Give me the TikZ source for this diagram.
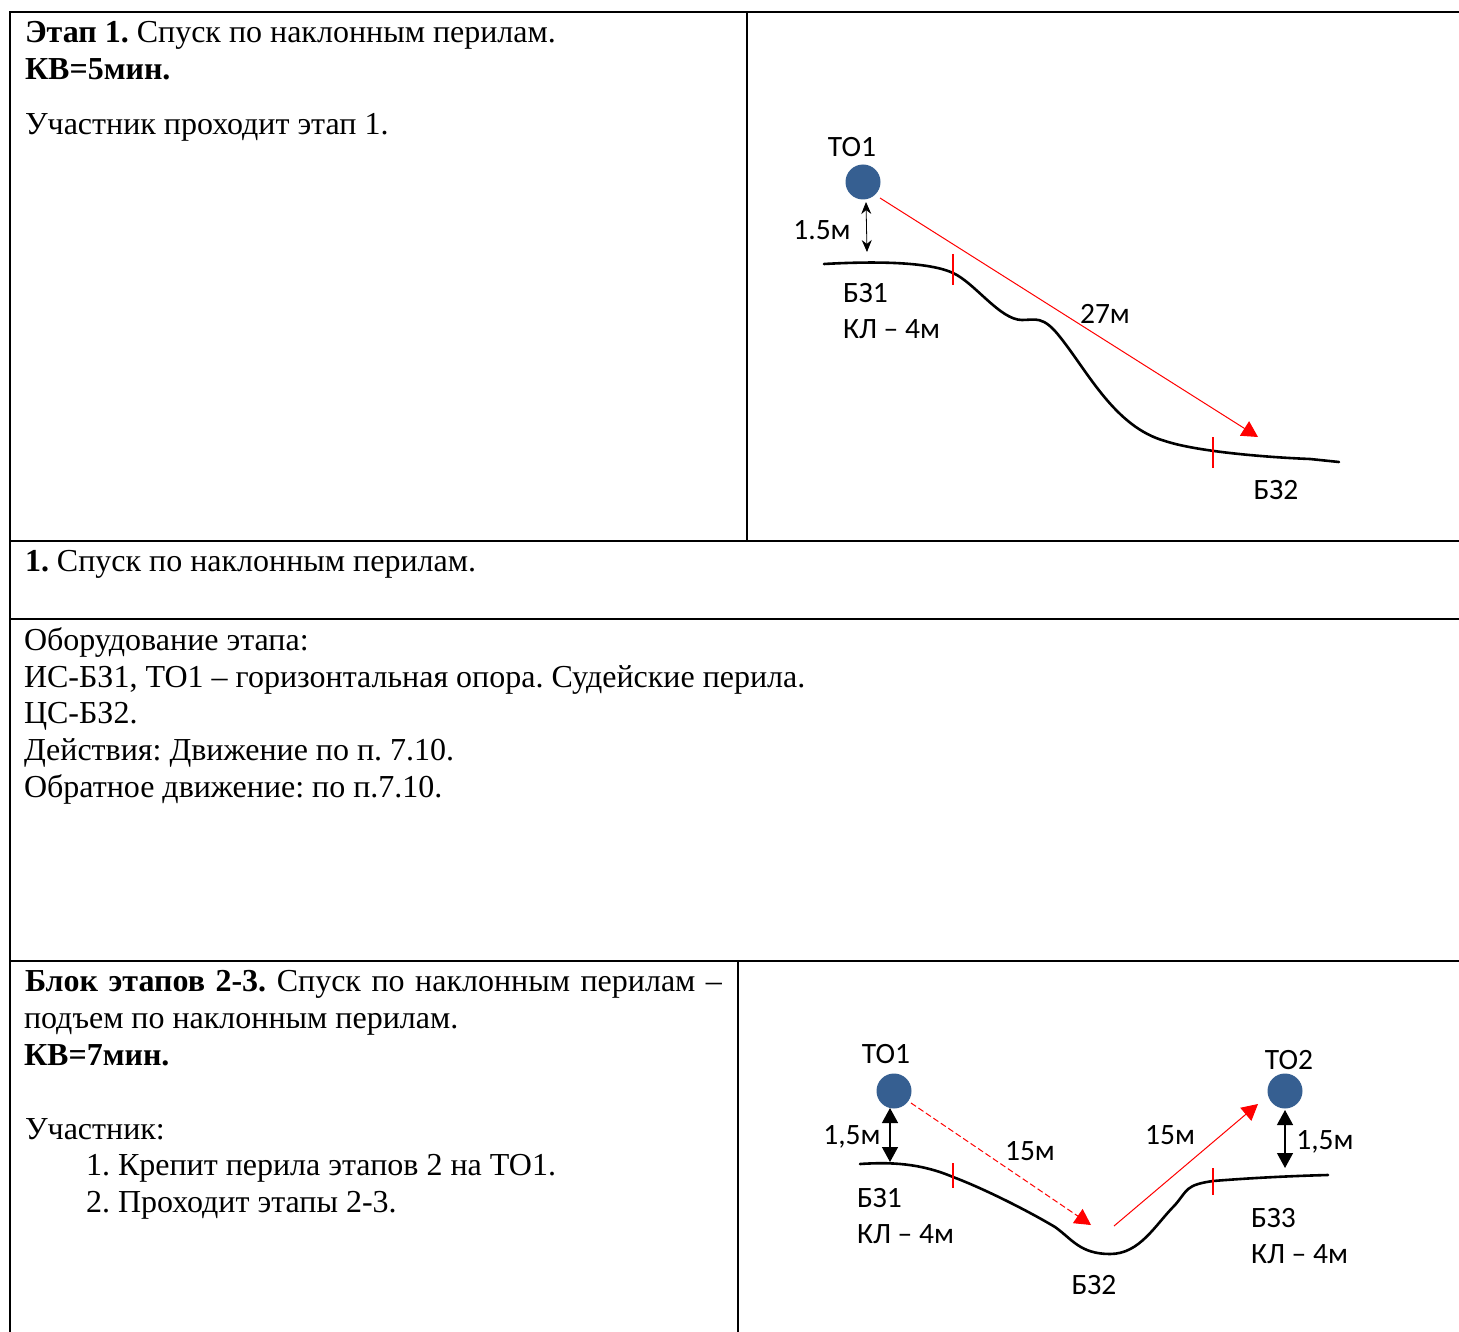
\documentclass[tikz,border=0pt]{standalone}
\usepackage{fontspec}
\setmainfont{Liberation Serif}
\newfontfamily\lblfont{Carlito}
\usetikzlibrary{arrows.meta}
\definecolor{pt}{HTML}{365F91}
\tikzset{
 x=1pt,y=-1pt,
 rule/.style={black,line width=1.5pt},
 txt/.style={anchor=base west,inner sep=0pt,outer sep=0pt,font=\fontsize{32}{38}\selectfont},
 lbl/.style={inner sep=0pt,outer sep=0pt,font=\lblfont\fontsize{29.5}{34}\selectfont},
 lblw/.style={lbl,anchor=base west},
 pnt/.style={circle,fill=pt,draw=none,minimum size=35pt,inner sep=0pt},
 slope/.style={black,line width=2.6pt,line join=round,line cap=round},
 tick/.style={red,line width=1.5pt},
 redarrow/.style={red,line width=1pt,-{Triangle[length=16pt,width=17pt]}},
 dbl/.style={black,line width=1.3pt,{Triangle[length=15pt,width=16pt]}-{Triangle[length=15pt,width=16pt]}},
 thindbl/.style={black,line width=.8pt,{Stealth[length=12pt,width=10pt]}-{Stealth[length=12pt,width=10pt]}},
}
\begin{document}
\frenchspacing
\begin{tikzpicture}
\useasboundingbox (0,0) rectangle (1459,1332);
% table
\draw[rule] (1459,12) -- (10,12) -- (10,1332);
\draw[rule] (747,12) -- (747,541);
\draw[rule] (10,541) -- (1459,541);
\draw[rule] (10,619) -- (1459,619);
\draw[rule] (10,961) -- (1459,961);
\draw[rule] (738,961) -- (738,1332);
% texts
\node[txt] (a1) at (25,43) {\textbf{Этап 1.} Спуск по наклонным перилам.};
\node[txt] (a2) at (25,80) {\textbf{КВ=5мин.}};
\node[txt] (a3) at (25,135) {Участник проходит этап 1.};
\node[txt] (b1) at (25,571) {\textbf{1.} Спуск по наклонным перилам.};
\node[txt] (c1) at (24,650) {Оборудование этапа:};
\node[txt] (c2) at (24,687) {ИС-БЗ1, ТО1 – горизонтальная опора. Судейские перила.};
\node[txt] (c3) at (24,723) {ЦС-БЗ2.};
\node[txt] (c4) at (24,760) {Действия: Движение по п. 7.10.};
\node[txt] (c5) at (24,797) {Обратное движение: по п.7.10.};
\node[txt] (d1) at (25,991) {\makebox[697pt][s]{\textbf{Блок этапов 2-3.} Спуск по наклонным перилам –}};
\node[txt] (d2) at (24,1028) {подъем по наклонным перилам.};
\node[txt] (d3) at (24,1065) {\textbf{КВ=7мин.}};
\node[txt] (d4) at (25,1139) {Участник:};
\node[txt] (d5) at (86,1175) {1. Крепит перила этапов 2 на ТО1.};
\node[txt] (d6) at (86,1212) {2. Проходит этапы 2-3.};
% upper diagram
\node[pnt] (to1) at (863,182) {};
\node[lbl] (lto1) at (852,147) {ТО1};
\node[lbl] (l15) at (822,230) {1.5м};
\node[lblw] (lbz1) at (843,302) {БЗ1};
\node[lblw] (lkl1) at (843,338) {КЛ – 4м};
\node[lbl] (l27) at (1105,314) {27м};
\node[lbl] (lbz2) at (1276,490) {БЗ2};
\draw[slope] (824,264) .. controls (860,262) and (925,260) .. (953,273)
  .. controls (975,283) and (1000,320) .. (1022,320)
  .. controls (1035,320) and (1043,315) .. (1060,337)
  .. controls (1088,372) and (1115,427) .. (1165,441)
  .. controls (1195,451) and (1260,457) .. (1310,459)
  -- (1339,462);
\draw[tick] (953,254) -- (953,285);
\draw[tick] (1213,437) -- (1213,468);
\coordinate (r1s) at (880,198);
\coordinate (r1e) at (1258,437);
\draw[redarrow] (r1s) -- (r1e);
\coordinate (d1s) at (866,202);
\coordinate (d1e) at (867,252);
\draw[thindbl] (d1s) -- (d1e);
% lower diagram
\node[pnt] (t1) at (894,1091) {};
\node[pnt] (t2) at (1285,1091) {};
\node[lbl] (lt1) at (886,1054) {ТО1};
\node[lbl] (lt2) at (1289,1060) {ТО2};
\node[lbl] (lh1) at (852,1137) {1,5м};
\node[lbl] (lh2) at (1325,1142) {1,5м};
\node[lbl] (lm1) at (1030,1151) {15м};
\node[lbl] (lm2) at (1170,1135) {15м};
\node[lblw] (lb1) at (857,1207) {БЗ1};
\node[lblw] (lk1) at (857,1243) {КЛ – 4м};
\node[lblw] (lb3) at (1251,1227) {БЗ3};
\node[lblw] (lk3) at (1251,1263) {КЛ – 4м};
\node[lbl] (lb2) at (1094,1285) {БЗ2};
\draw[slope] (860,1164) .. controls (890,1162) and (920,1163) .. (953,1177)
  .. controls (985,1189) and (1030,1212) .. (1055,1227)
  .. controls (1072,1239) and (1080,1254) .. (1110,1254)
  .. controls (1140,1254) and (1155,1225) .. (1175,1205)
  .. controls (1188,1190) and (1185,1185) .. (1213,1181)
  .. controls (1250,1178) and (1290,1176) .. (1328,1175);
\draw[tick] (953,1163) -- (953,1188);
\draw[tick] (1213,1168) -- (1213,1195);
\coordinate (r2s) at (911,1103);
\coordinate (r2e) at (1091,1225);
\draw[redarrow,dash pattern=on 6pt off 3pt] (r2s) -- (r2e);
\coordinate (r3s) at (1114,1226);
\coordinate (r3e) at (1258,1104);
\draw[redarrow] (r3s) -- (r3e);
\coordinate (h1s) at (890,1108);
\coordinate (h1e) at (890,1162);
\draw[dbl] (h1s) -- (h1e);
\coordinate (h2s) at (1285,1110);
\coordinate (h2e) at (1285,1168);
\draw[dbl] (h2s) -- (h2e);
\end{tikzpicture}
\end{document}
